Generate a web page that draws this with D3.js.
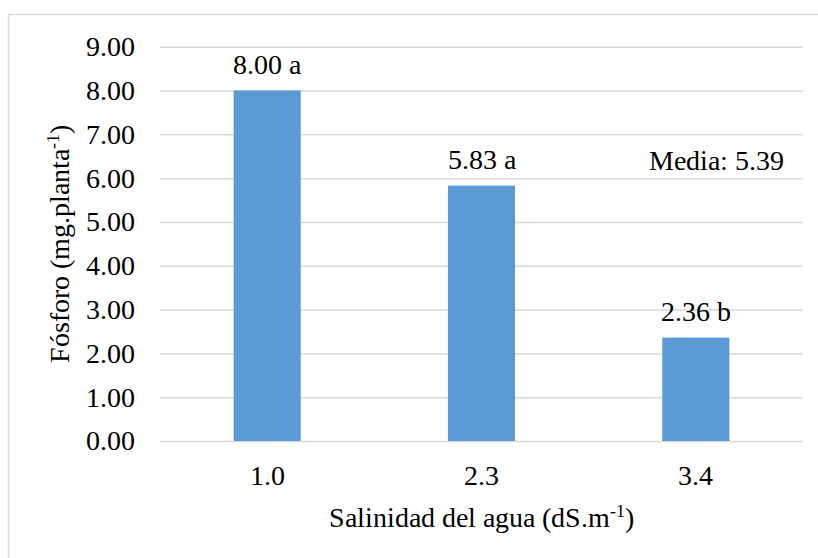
<!DOCTYPE html>
<html>
<head>
<meta charset="utf-8">
<script src="https://cdn.jsdelivr.net/npm/d3@7/dist/d3.min.js"></script>
<style>
  @font-face {
    font-family: "ChartSerif";
    src: local("Liberation Serif"), local("LiberationSerif"), local("LiberationSerif-Regular"),
         local("Times New Roman"), local("DejaVu Serif"), local("DejaVuSerif"), local("Noto Serif");
  }
</style>
</head>
<body style="margin:0;padding:0;background:#fff;">
<svg id="chart" width="818" height="558"></svg>
<script>
// Salinity of irrigation water vs. phosphorus per plant
const categories = ["1.0", "2.3", "3.4"];
const values = [8.00, 5.83, 2.36];
const letters = ["a", "a", "b"];
const yTicks = [0, 1, 2, 3, 4, 5, 6, 7, 8, 9];
const meanValue = 5.39;

const FONT = "ChartSerif, 'Liberation Serif', 'DejaVu Serif', serif";
const svg = d3.select("#chart").style("font-family", FONT);
const margin = { left: 160, right: 15, top: 46.7, bottom: 117 };
const W = 818, H = 558;
const fontSize = 28;

// Outer frame (top and left edges visible)
svg.append("path")
  .attr("d", `M8.5,${H} L8.5,14.5 L${W},14.5`)
  .attr("fill", "none")
  .attr("stroke", "#d9d9d9")
  .attr("stroke-width", 1.5);

const x = d3.scaleBand()
  .domain(categories)
  .range([margin.left, W - margin.right])
  .padding(0);

const y = d3.scaleLinear()
  .domain([0, 9])
  .range([H - margin.bottom, margin.top]);

const barW = x.bandwidth() * 0.313;

// Gridlines + y tick labels
const yAxis = svg.append("g")
  .attr("transform", `translate(${margin.left},0)`)
  .call(d3.axisLeft(y)
    .tickValues(yTicks)
    .tickFormat(d3.format(".2f"))
    .tickSize(-(W - margin.right - margin.left))
    .tickPadding(25));
yAxis.attr("font-family", FONT);
yAxis.select(".domain").remove();
yAxis.selectAll(".tick line").attr("stroke", "#d9d9d9").attr("stroke-width", 1.5);
yAxis.selectAll(".tick text")
  .style("font-family", FONT)
  .style("font-size", fontSize + "px")
  .attr("fill", "#000");

// Bars
svg.append("g").selectAll("rect")
  .data(values)
  .join("rect")
  .attr("x", (d, i) => x(categories[i]) + x.bandwidth() / 2 - barW / 2)
  .attr("y", d => y(d))
  .attr("width", barW)
  .attr("height", d => y(0) - y(d))
  .attr("fill", "#5b9bd5");

// Value labels with significance letters
svg.append("g").selectAll("text")
  .data(values)
  .join("text")
  .attr("x", (d, i) => x(categories[i]) + x.bandwidth() / 2)
  .attr("y", d => y(d) - 17)
  .attr("text-anchor", "middle")
  .style("font-family", FONT)
  .style("font-size", fontSize + "px")
  .text((d, i) => d3.format(".2f")(d) + " " + letters[i]);

// X axis labels
const xAxis = svg.append("g")
  .attr("transform", `translate(0,${y(0)})`)
  .call(d3.axisBottom(x).tickSize(0).tickPadding(24));
xAxis.attr("font-family", FONT);
xAxis.select(".domain").remove();
xAxis.selectAll(".tick text")
  .style("font-family", FONT)
  .style("font-size", fontSize + "px")
  .attr("fill", "#000");

// Mean annotation
svg.append("text")
  .attr("x", 784)
  .attr("y", 170)
  .attr("text-anchor", "end")
  .style("font-family", FONT)
  .style("font-size", fontSize + "px")
  .text("Media: " + d3.format(".2f")(meanValue));

// X axis title
const xt = svg.append("text")
  .attr("x", (margin.left + W - margin.right) / 2)
  .attr("y", 527)
  .attr("text-anchor", "middle")
  .style("font-family", FONT)
  .style("font-size", fontSize + "px");
xt.append("tspan").text("Salinidad del agua (dS.m");
xt.append("tspan").attr("dy", -10).style("font-size", "18px").text("-1");
xt.append("tspan").attr("dy", 10).text(")");

// Y axis title
const yt = svg.append("text")
  .attr("transform", `translate(69,${(y(0) + y(9)) / 2}) rotate(-90)`)
  .attr("text-anchor", "middle")
  .style("font-family", FONT)
  .style("font-size", fontSize + "px");
yt.append("tspan").text("Fósforo (mg.planta");
yt.append("tspan").attr("dy", -10).style("font-size", "18px").text("-1");
yt.append("tspan").attr("dy", 10).text(")");
</script>
</body>
</html>
